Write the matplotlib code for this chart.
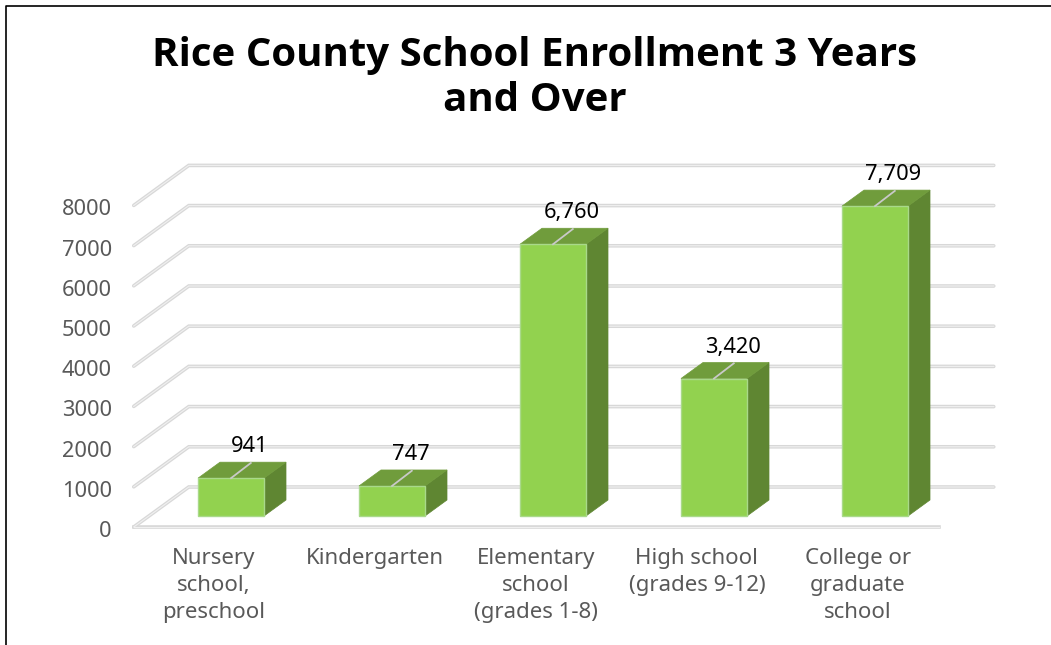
import matplotlib
matplotlib.use("Agg")
import matplotlib.pyplot as plt
from matplotlib.patches import Polygon

categories = ["Nursery\nschool,\npreschool", "Kindergarten", "Elementary\nschool\n(grades 1-8)",
              "High school\n(grades 9-12)", "College or\ngraduate\nschool"]
values = [941, 747, 6760, 3420, 7709]
value_labels = ["941", "747", "6,760", "3,420", "7,709"]
yticks = [0, 1000, 2000, 3000, 4000, 5000, 6000, 7000, 8000]

W, H = 1051, 645
DX = 55 / 161      # one unit of depth, in category widths
DY = 40 / 0.0402   # one unit of depth, in value units
BAR_W = 0.41
FLOOR_FRONT = -0.275
BAR_DEPTH = 0.4
XL, XR = -0.46, 4.54
GRID = "#d8d8d8"
GRID_IN = "#f0f0f0"

plt.rcParams["font.family"] = "Noto Sans"

fig = plt.figure(figsize=(W / 100, H / 100), dpi=100)
ax = fig.add_axes([150.5 / W, (H - 516) / H, 805 / W, 321.6 / H])
ax.set_xlim(-0.5, 4.5)
ax.set_ylim(0, 8000)
ax.set_axis_off()


def proj(x, v, d):
    return x + d * DX, v + d * DY


# walls: each gridline runs along the side wall then the back wall
xa, _ = proj(XL - 0.05, 0, FLOOR_FRONT)
xb, _ = proj(XL - 0.05, 0, FLOOR_FRONT + 1)
xc, _ = proj(XR - 0.05, 0, FLOOR_FRONT + 1)
for t in yticks:
    _, y0 = proj(0, t, FLOOR_FRONT)
    _, y1 = proj(0, t, FLOOR_FRONT + 1)
    ax.plot([xa, xb, xc], [y0, y1, y1], color=GRID, lw=2.6, clip_on=False,
            solid_capstyle="round", solid_joinstyle="miter", zorder=1)
    ax.plot([xa, xb, xc], [y0, y1, y1], color=GRID_IN, lw=0.8, clip_on=False,
            solid_joinstyle="miter", zorder=1.1)
# floor front edge
_, yf = proj(0, 0, FLOOR_FRONT)
xf, _ = proj(XR - 0.05, 0, FLOOR_FRONT)
ax.plot([xa, xf], [yf, yf], color=GRID, lw=2.6, clip_on=False, zorder=1)
ax.plot([xa, xf], [yf, yf], color=GRID_IN, lw=0.8, clip_on=False, zorder=1.1)

for t in yticks:
    _, y0 = proj(0, t, FLOOR_FRONT)
    ax.text(-0.74, y0 - 50, str(t), ha="right", va="center_baseline", fontsize=15.7, color="#595959", clip_on=False)

for i, (v, lab, cat) in enumerate(zip(values, value_labels, categories)):
    l, r = i - BAR_W / 2, i + BAR_W / 2
    dx, dy = proj(0, 0, BAR_DEPTH)
    ax.add_patch(Polygon([(r, 0), (r + dx, dy), (r + dx, v + dy), (r, v)], closed=True,
                         facecolor="#5f8632", edgecolor="#5f8632", lw=0.5, zorder=3, clip_on=False))
    ax.add_patch(Polygon([(l, v), (l + dx, v + dy), (r + dx, v + dy), (r, v)], closed=True,
                         facecolor="#709c3c", edgecolor="#709c3c", lw=0.5, zorder=3, clip_on=False))
    ax.bar(i, v, width=BAR_W, color="#92d24f", edgecolor="#a9d98a", linewidth=1, zorder=4, clip_on=False)
    # leader line on the top of the bar
    ax.plot([i, i + dx * 0.9], [v, v + dy * 0.95], color="#c9c9c9", lw=1.3, zorder=5, clip_on=False)
    ax.text(i + 0.115, v + 34 / 0.0402, lab, ha="center", va="center_baseline", fontsize=15.7, color="black",
            zorder=6, clip_on=False)
    ax.text(i - 0.106, -1 / 0.0402 * 32, cat, ha="center", va="top", fontsize=16, color="#595959",
            linespacing=1.38, clip_on=False)

fig.text(535 / W, 1 - 78 / H, "Rice County School Enrollment 3 Years\nand Over", ha="center", va="center",
         fontsize=29, fontweight="bold", family="Open Sans", color="black", linespacing=1.2)

# chart frame, cut off by the picture on the right and at the bottom
fig.add_artist(plt.Line2D([6 / W, 6 / W, 1], [0, 1 - 6 / H, 1 - 6 / H], color="black", lw=1.2))

fig.savefig("out.png", dpi=100, facecolor="white")
